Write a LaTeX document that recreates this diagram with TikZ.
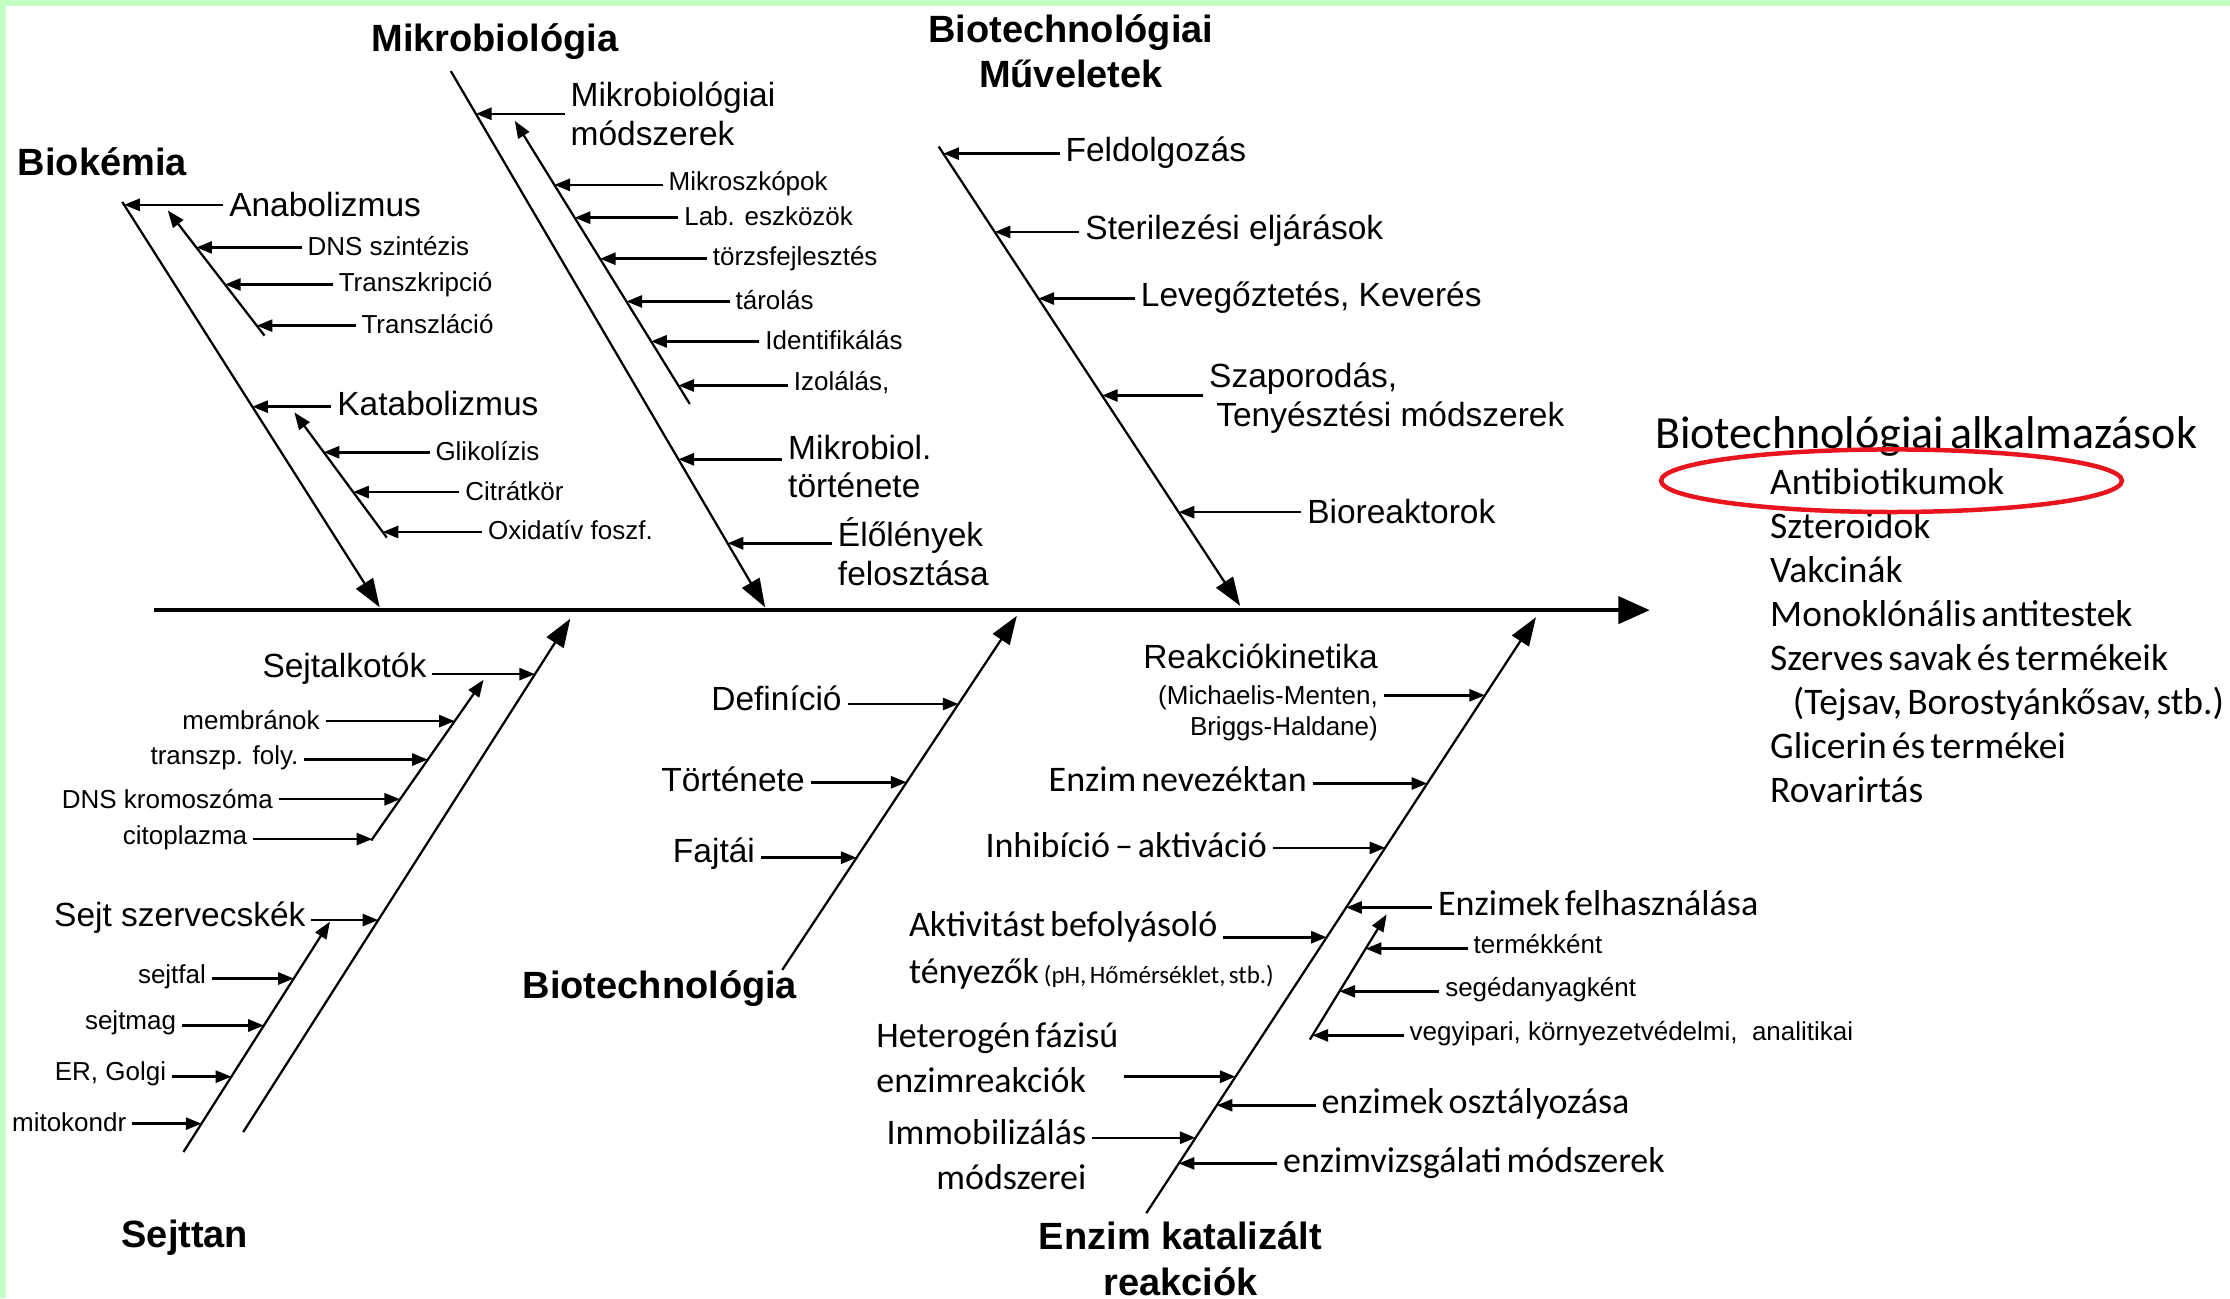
\documentclass[tikz,border=0pt]{standalone}
\usepackage{fontspec}
\setmainfont{Liberation Sans}
\newfontfamily\calfont{Carlito}
\newfontfamily\listfont{Carlito}[WordSpace=0.6]
\usepackage{tikz}
\usetikzlibrary{arrows.meta}
\usetikzlibrary{positioning}
\definecolor{frameColor}{HTML}{C4FFC4}
\definecolor{markColor}{HTML}{E8141E}

\tikzset{
  spine/.style={line width=0.75pt, -{Triangle[length=2.2mm,width=1.9mm]}},
  bone/.style={line width=0.45pt, -{Triangle[length=2mm,width=1.4mm]}},
  subbone/.style={line width=0.45pt, -{Triangle[length=1.2mm,width=0.9mm]}},
  sarr/.style={line width=0.5pt, -{Triangle[length=1.1mm,width=0.85mm]}},
  head/.style={font=\bfseries\fontsize{7.6}{9.1}\selectfont, align=center, inner sep=1pt},
  mid/.style={font=\fontsize{6.7}{7.7}\selectfont, inner sep=1pt},
  sml/.style={font=\fontsize{5.2}{6.2}\selectfont, inner sep=1pt},
  cal/.style={font=\calfont\fontsize{7.2}{9}\selectfont, inner sep=1pt},
  applist/.style={font=\listfont\fontsize{7.5}{8.82}\selectfont, align=left, inner sep=0pt}
}

\begin{document}
\begin{tikzpicture}[x=0.1mm, y=-0.1mm]
  \useasboundingbox (0,0) rectangle (1568,913);
  \fill[frameColor] (0,0) rectangle (1568,4);
  \fill[frameColor] (0,0) rectangle (4,913);

  \coordinate (spA) at (108,429);
  \coordinate (spB) at (1160,429);
  \draw[spine] (spA) -- (spB);

  % Biokemia
  \coordinate (bkA) at (86,142);
  \coordinate (bkB) at (267,427);
  \draw[bone] (bkA) -- (bkB) coordinate[pos=.007] (bk1) coordinate[pos=.505] (bk2);
  \coordinate (bk1A) at (186,236);
  \coordinate (bk1B) at (118,148);
  \draw[subbone] (bk1A) -- (bk1B) coordinate[pos=.705] (bk11) coordinate[pos=.409] (bk12) coordinate[pos=.08] (bk13);
  \coordinate (bk2A) at (272,378);
  \coordinate (bk2B) at (207,290);
  \draw[subbone] (bk2A) -- (bk2B) coordinate[pos=.682] (bk21) coordinate[pos=.364] (bk22) coordinate[pos=.045] (bk23);

  \node[head] (biok) at (72,114) {Biokémia};
  \node[mid, anchor=west] (anab) at (157,144) {Anabolizmus};
  \node[sml, anchor=west] (dnssz) at (212,173) {DNS szintézis};
  \node[sml, anchor=west] (trk) at (234,200) {Transzkripció};
  \node[sml, anchor=west] (trl) at (250,228) {Transzláció};
  \node[mid, anchor=west] (katab) at (233,284) {Katabolizmus};
  \node[sml, anchor=west] (glik) at (302,317) {Glikolízis};
  \node[sml, anchor=west] (citr) at (323,345) {Citrátkör};
  \node[sml, anchor=west] (oxid) at (339,373) {Oxidatív foszf.};
  \draw[sarr] (anab.west |- bk1) -- (bk1);
  \draw[sarr] (dnssz.west |- bk11) -- (bk11);
  \draw[sarr] (trk.west |- bk12) -- (bk12);
  \draw[sarr] (trl.west |- bk13) -- (bk13);
  \draw[sarr] (katab.west |- bk2) -- (bk2);
  \draw[sarr] (glik.west |- bk21) -- (bk21);
  \draw[sarr] (citr.west |- bk22) -- (bk22);
  \draw[sarr] (oxid.west |- bk23) -- (bk23);

  % Mikrobiologia
  \coordinate (mbA) at (317,50);
  \coordinate (mbB) at (538,427);
  \draw[bone] (mbA) -- (mbB) coordinate[pos=.0796] (mb1) coordinate[pos=.724] (mb2) coordinate[pos=.8806] (mb3);
  \coordinate (mb1A) at (485,284);
  \coordinate (mb1B) at (362,85);
  \draw[subbone] (mb1A) -- (mb1B) coordinate[pos=.774] (mb11) coordinate[pos=.658] (mb12) coordinate[pos=.513] (mb13)
    coordinate[pos=.362] (mb14) coordinate[pos=.221] (mb15) coordinate[pos=.065] (mb16);

  \node[head] (mikrob) at (348,29) {Mikrobiológia};
  \node[mid, anchor=west, align=left] (mbmod) at (397,80) {Mikrobiológiai\\módszerek};
  \node[sml, anchor=west] (mikrosz) at (466,129) {Mikroszkópok};
  \node[sml, anchor=west] (labesz) at (477,152) {Lab. eszközök};
  \node[sml, anchor=west] (torzs) at (497,182) {törzsfejlesztés};
  \node[sml, anchor=west] (tarol) at (513,211) {tárolás};
  \node[sml, anchor=west] (ident) at (534,239) {Identifikálás};
  \node[sml, anchor=west] (izol) at (554,269) {Izolálás,};
  \node[mid, anchor=west, align=left] (mbtort) at (550,328) {Mikrobiol.\\története};
  \node[mid, anchor=west, align=left] (elol) at (585,388) {Élőlények\\felosztása};
  \draw[sarr] (mbmod.west |- mb1) -- (mb1);
  \draw[sarr] (mikrosz.west |- mb11) -- (mb11);
  \draw[sarr] (labesz.west |- mb12) -- (mb12);
  \draw[sarr] (torzs.west |- mb13) -- (mb13);
  \draw[sarr] (tarol.west |- mb14) -- (mb14);
  \draw[sarr] (ident.west |- mb15) -- (mb15);
  \draw[sarr] (izol.west |- mb16) -- (mb16);
  \draw[sarr] (mbtort.west |- mb2) -- (mb2);
  \draw[sarr] (elol.west |- mb3) -- (mb3);

  % Biotechnologiai muveletek
  \coordinate (bmA) at (660,103);
  \coordinate (bmB) at (872,426);
  \draw[bone] (bmA) -- (bmB) coordinate[pos=.0155] (bm1) coordinate[pos=.186] (bm2) coordinate[pos=.331] (bm3)
    coordinate[pos=.542] (bm4) coordinate[pos=.796] (bm5);

  \node[head] (muvel) at (753,36) {Biotechnológiai\\Műveletek};
  \node[mid, anchor=west] (feld) at (745,107) {Feldolgozás};
  \node[mid, anchor=west] (steril) at (759,162) {Sterilezési eljárások};
  \node[mid, anchor=west] (leveg) at (798,209) {Levegőztetés, Keverés};
  \node[mid, anchor=west, align=left] (szap) at (846,280) {Szaporodás,\\\hspace*{0.5mm}Tenyésztési módszerek};
  \node[mid, anchor=west] (biore) at (915,360) {Bioreaktorok};
  \draw[sarr] (feld.west |- bm1) -- (bm1);
  \draw[sarr] (steril.west |- bm2) -- (bm2);
  \draw[sarr] (leveg.west |- bm3) -- (bm3);
  \draw[sarr] (szap.west |- bm4) -- (bm4);
  \draw[sarr] (biore.west |- bm5) -- (bm5);

  % Sejttan
  \coordinate (stA) at (171,796);
  \coordinate (stB) at (401,435);
  \draw[bone] (stA) -- (stB) coordinate[pos=.892] (st1) coordinate[pos=.413] (st2);
  \coordinate (st1A) at (261,591);
  \coordinate (st1B) at (340,478);
  \draw[subbone] (st1A) -- (st1B) coordinate[pos=.743] (st11) coordinate[pos=.504] (st12) coordinate[pos=.257] (st13) coordinate[pos=.009] (st14);
  \coordinate (st2A) at (129,810);
  \coordinate (st2B) at (232,648);
  \draw[subbone] (st2A) -- (st2B) coordinate[pos=.753] (st21) coordinate[pos=.549] (st22) coordinate[pos=.327] (st23) coordinate[pos=.123] (st24);

  \node[head] (sejtt) at (130,870) {Sejttan};
  \node[mid, anchor=east] (sejtalk) at (304,470) {Sejtalkotók};
  \node[sml, anchor=east] (membr) at (229,506) {membránok};
  \node[sml, anchor=east] (transzp) at (214,533) {transzp. foly.};
  \node[sml, anchor=east] (dnskr) at (196,562) {DNS kromoszóma};
  \node[sml, anchor=east] (citop) at (178,589) {citoplazma};
  \node[mid, anchor=east] (szerv) at (219,645) {Sejt szervecskék};
  \node[sml, anchor=east] (sejtfal) at (149,687) {sejtfal};
  \node[sml, anchor=east] (sejtmag) at (128,719) {sejtmag};
  \node[sml, anchor=east] (ergolgi) at (121,755) {ER, Golgi};
  \node[sml, anchor=east] (mitok) at (93,789) {mitokondr};
  \draw[sarr] (sejtalk.east |- st1) -- (st1);
  \draw[sarr] (membr.east |- st11) -- (st11);
  \draw[sarr] (transzp.east |- st12) -- (st12);
  \draw[sarr] (dnskr.east |- st13) -- (st13);
  \draw[sarr] (citop.east |- st14) -- (st14);
  \draw[sarr] (szerv.east |- st2) -- (st2);
  \draw[sarr] (sejtfal.east |- st21) -- (st21);
  \draw[sarr] (sejtmag.east |- st22) -- (st22);
  \draw[sarr] (ergolgi.east |- st23) -- (st23);
  \draw[sarr] (mitok.east |- st24) -- (st24);

  % Biotechnologia
  \coordinate (btA) at (550,682);
  \coordinate (btB) at (715,433);
  \draw[bone] (btA) -- (btB) coordinate[pos=.751] (bt1) coordinate[pos=.530] (bt2) coordinate[pos=.317] (bt3);

  \node[head] (biotech) at (464,695) {Biotechnológia};
  \node[mid, anchor=east] (defin) at (596,491) {Definíció};
  \node[mid, anchor=east] (tort) at (570,548) {Története};
  \node[mid, anchor=east] (fajt) at (535,600) {Fajtái};
  \draw[sarr] (defin.east |- bt1) -- (bt1);
  \draw[sarr] (tort.east |- bt2) -- (bt2);
  \draw[sarr] (fajt.east |- bt3) -- (bt3);

  % Enzim katalizalt reakciok
  \coordinate (ezA) at (806,853);
  \coordinate (ezB) at (1080,434);
  \draw[bone] (ezA) -- (ezB) coordinate[pos=.869] (ez1) coordinate[pos=.721] (ez2) coordinate[pos=.613] (ez3)
    coordinate[pos=.513] (ez4) coordinate[pos=.463] (ez5) coordinate[pos=.229] (ez6) coordinate[pos=.181] (ez7)
    coordinate[pos=.1265] (ez8) coordinate[pos=.0835] (ez9);
  \coordinate (ez1A) at (921,731);
  \coordinate (ez1B) at (975,643);
  \draw[subbone] (ez1A) -- (ez1B) coordinate[pos=.727] (ez11) coordinate[pos=.386] (ez12) coordinate[pos=.034] (ez13);

  \node[head] (enzim) at (830,885) {Enzim katalizált\\reakciók};
  \node[sml, anchor=east, align=right] (reakc) at (973,487) {{\fontsize{6.7}{7.7}\selectfont Reakciókinetika}\\[1pt](Michaelis-Menten,\\Briggs-Haldane)};
  \node[cal, anchor=east] (nevez) at (923,548) {Enzim nevezéktan};
  \node[cal, anchor=east] (inhib) at (895,594) {Inhibíció – aktiváció};
  \node[cal, anchor=west] (aktiv) at (635,652) {Aktivitást befolyásoló};
  \node[cal, anchor=west] (tenyez) at (635,685) {tényezők {\fontsize{5}{6}\selectfont(pH, Hőmérséklet, stb.)}};
  \node[cal, anchor=west, align=left] (heter) at (612,744) {Heterogén fázisú\\enzimreakciók};
  \node[cal, anchor=east, align=right] (immob) at (768,812) {Immobilizálás\\módszerei};
  \node[cal, anchor=west] (felhasz) at (1007,635) {Enzimek felhasználása};
  \node[sml, anchor=west] (termek) at (1032,664) {termékként};
  \node[sml, anchor=west] (seged) at (1012,696) {segédanyagként};
  \node[sml, anchor=west] (vegyip) at (987,727) {vegyipari, környezetvédelmi, \ analitikai};
  \node[cal, anchor=west] (osztaly) at (925,776) {enzimek osztályozása};
  \node[cal, anchor=west] (vizsg) at (898,818) {enzimvizsgálati módszerek};
  \draw[sarr] (reakc.east |- ez1) -- (ez1);
  \draw[sarr] (nevez.east |- ez2) -- (ez2);
  \draw[sarr] (inhib.east |- ez3) -- (ez3);
  \draw[sarr] (aktiv.east |- ez5) -- (ez5);
  \draw[sarr] (heter.east |- ez6) -- (ez6);
  \draw[sarr] (immob.east |- ez8) -- (ez8);
  \draw[sarr] (felhasz.west |- ez4) -- (ez4);
  \draw[sarr] (termek.west |- ez11) -- (ez11);
  \draw[sarr] (seged.west |- ez12) -- (ez12);
  \draw[sarr] (vegyip.west |- ez13) -- (ez13);
  \draw[sarr] (osztaly.west |- ez7) -- (ez7);
  \draw[sarr] (vizsg.west |- ez9) -- (ez9);

  % Biotechnologiai alkalmazasok
  \node[font=\listfont\fontsize{9.2}{11}\selectfont, anchor=west, inner sep=0pt] (alkalm) at (1163,307) {Biotechnológiai alkalmazások};
  \node[applist, anchor=west] (alklist) at (1244,447) {Antibiotikumok\\
    Szteroidok\\
    Vakcinák\\
    Monoklónális antitestek\\
    Szerves savak és termékeik\\
    \hspace*{1.6mm}(Tejsav, Borostyánkősav, stb.)\\
    Glicerin és termékei\\
    Rovarirtás};
  \draw[markColor, line width=0.9pt] (1330,338) ellipse (16.2mm and 2.2mm);
\end{tikzpicture}
\end{document}
